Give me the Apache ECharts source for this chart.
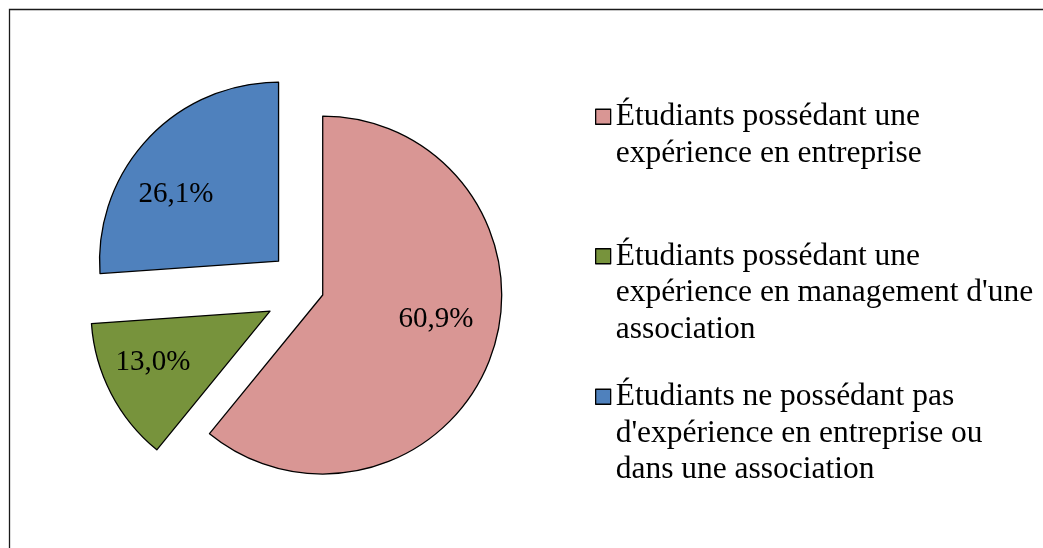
<!DOCTYPE html>
<html>
<head>
<meta charset="utf-8">
<title>Expérience des étudiants</title>
<script src="https://cdn.jsdelivr.net/npm/echarts@6/dist/echarts.min.js"></script>
<style>
  html, body { margin: 0; padding: 0; background: #fff; }
  #chart { width: 1043px; height: 548px; }
</style>
</head>
<body>
<div id="chart"></div>
<script>
const categories = [
  'Étudiants possédant une expérience en entreprise',
  "Étudiants possédant une expérience en management d'une association",
  "Étudiants ne possédant pas d'expérience en entreprise ou dans une association"
]
const values = [60.9, 13.0, 26.1]
const legendLabels = [
  'Étudiants possédant une\nexpérience en entreprise',
  "Étudiants possédant une\nexpérience en management d'une\nassociation",
  "Étudiants ne possédant pas\nd'expérience en entreprise ou\ndans une association"
]

const colors = ['#D99694', '#77933C', '#4F81BD']
const serif = "'Liberation Serif', 'Times New Roman', serif"
// each slice is pulled out by its own distance, like in the original
const explode = [13.5, 45, 43]
const labelShift = [{ dx: 26, dy: -7 }, { dx: -35, dy: 9 }, { dx: -35, dy: -4 }]
const legendTop = [62, 165, 305.5]
const lineH = 36.5

function fmt(v) {
  return v.toFixed(1).replace('.', ',') + '%'
}

// one pie series per slice, only that slice is visible
function sliceSeries(idx) {
  return {
    type: 'pie',
    center: [310, 290.5],
    radius: 179,
    startAngle: 90,
    clockwise: true,
    selectedMode: 'multiple',
    selectedOffset: explode[idx],
    avoidLabelOverlap: false,
    silent: true,
    emphasis: { disabled: true },
    labelLine: { show: false },
    labelLayout: labelShift[idx],
    data: values.map((v, i) => ({
      name: categories[i],
      value: v,
      selected: i === idx,
      itemStyle: i === idx
        ? { color: colors[i], borderColor: '#000', borderWidth: 1.3 }
        : { color: 'rgba(0,0,0,0)', borderWidth: 0 },
      label: {
        show: i === idx,
        position: 'inside',
        formatter: fmt(v),
        color: '#000',
        fontFamily: serif,
        fontSize: 29
      }
    }))
  }
}

const chart = echarts.init(document.getElementById('chart'))

chart.setOption({
  backgroundColor: '#fff',
  animation: false,
  graphic: [{
    type: 'rect',
    shape: { x: 9.5, y: 9.5, width: 1100, height: 600 },
    style: { fill: 'none', stroke: '#1a1a1a', lineWidth: 1.3 },
    silent: true
  }],
  legend: categories.map((name, i) => {
    const lines = legendLabels[i].split('\n').length
    return {
      left: 595,
      top: legendTop[i],
      padding: 0,
      selectedMode: false,
      icon: 'rect',
      itemWidth: 15,
      itemHeight: 15,
      data: [{
        name: name,
        itemStyle: { color: colors[i], borderColor: '#000', borderWidth: 1.3 }
      }],
      // blank lines on top so the square sits next to the first line
      formatter: () => '\n'.repeat(lines - 1) + legendLabels[i],
      textStyle: {
        fontFamily: serif,
        fontSize: 31.5,
        color: '#000',
        lineHeight: lineH
      }
    }
  }),
  series: values.map((v, i) => sliceSeries(i))
})
</script>
</body>
</html>
